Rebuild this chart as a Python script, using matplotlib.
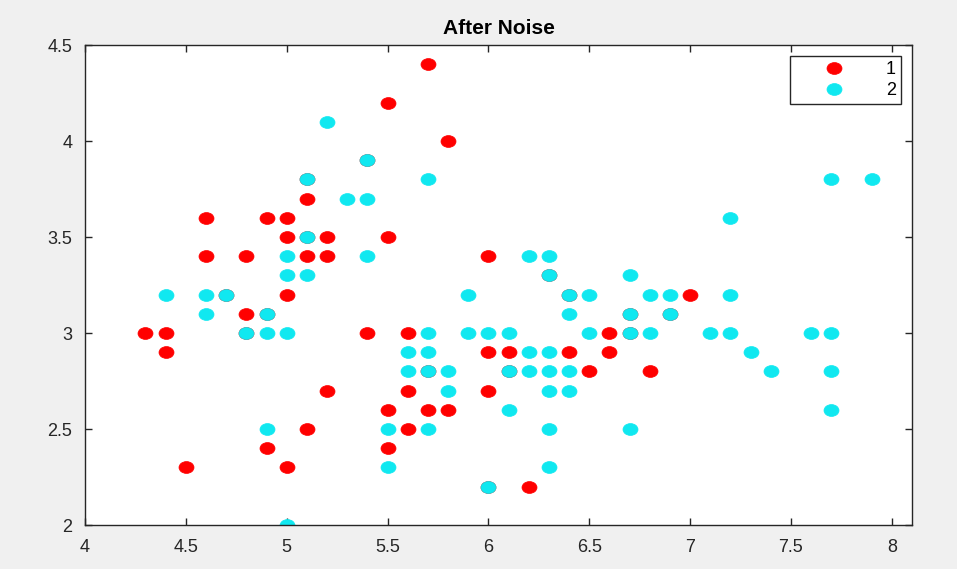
import matplotlib.pyplot as plt
from matplotlib.markers import MarkerStyle
from matplotlib.transforms import Affine2D

# clase 1 (rojo)
x1 = [5.7, 5.5, 5.8, 5.1, 4.6, 4.9, 5.0, 5.0, 5.2, 5.5, 4.6, 4.8, 5.1, 5.2, 6.0,
      5.0, 7.0, 4.8, 4.3, 4.4, 5.4, 5.6, 6.6, 4.4, 6.0, 6.1, 6.4, 6.6, 6.5, 6.8,
      5.2, 5.6, 6.0, 5.5, 5.7, 5.8, 5.1, 5.6, 4.9, 5.5, 4.5, 5.0, 6.2]
y1 = [4.4, 4.2, 4.0, 3.7, 3.6, 3.6, 3.6, 3.5, 3.5, 3.5, 3.4, 3.4, 3.4, 3.4, 3.4,
      3.2, 3.2, 3.1, 3.0, 3.0, 3.0, 3.0, 3.0, 2.9, 2.9, 2.9, 2.9, 2.9, 2.8, 2.8,
      2.7, 2.7, 2.7, 2.6, 2.6, 2.6, 2.5, 2.5, 2.4, 2.4, 2.3, 2.3, 2.2]

# puntos rojos tapados por cyan (se ven con borde oscuro)
x1b = [5.1, 5.4, 4.7, 4.9, 4.8, 5.1, 5.7, 6.0, 6.3, 6.4, 6.7, 6.9, 6.7, 6.1]
y1b = [3.8, 3.9, 3.2, 3.1, 3.0, 3.5, 2.8, 2.2, 3.3, 3.2, 3.1, 3.1, 3.0, 2.8]

# clase 2 (cyan)
x2 = [5.2, 5.4, 5.1, 5.7, 7.7, 7.9, 5.3, 5.4, 7.2, 5.1, 5.0, 5.4, 6.2, 6.3, 5.0,
      5.1, 6.3, 6.7, 4.4, 4.6, 4.7, 5.9, 6.4, 6.5, 6.8, 6.9, 7.2, 4.6, 4.9, 6.4,
      6.7, 6.9, 4.8, 4.9, 5.0, 5.7, 5.9, 6.0, 6.1, 6.5, 6.7, 6.8, 7.1, 7.2, 7.6,
      7.7, 5.6, 5.7, 6.2, 6.3, 7.3, 5.6, 5.7, 5.8, 6.1, 6.2, 6.3, 6.4, 7.4, 7.7,
      5.8, 6.3, 6.4, 6.1, 7.7, 4.9, 5.5, 5.7, 6.3, 6.7, 5.5, 6.3, 6.0, 5.0]
y2 = [4.1, 3.9, 3.8, 3.8, 3.8, 3.8, 3.7, 3.7, 3.6, 3.5, 3.4, 3.4, 3.4, 3.4, 3.3,
      3.3, 3.3, 3.3, 3.2, 3.2, 3.2, 3.2, 3.2, 3.2, 3.2, 3.2, 3.2, 3.1, 3.1, 3.1,
      3.1, 3.1, 3.0, 3.0, 3.0, 3.0, 3.0, 3.0, 3.0, 3.0, 3.0, 3.0, 3.0, 3.0, 3.0,
      3.0, 2.9, 2.9, 2.9, 2.9, 2.9, 2.8, 2.8, 2.8, 2.8, 2.8, 2.8, 2.8, 2.8, 2.8,
      2.7, 2.7, 2.7, 2.6, 2.6, 2.5, 2.5, 2.5, 2.5, 2.5, 2.3, 2.3, 2.2, 2.0]

rojo = '#ff0000'
cian = '#10e8f0'

plt.rcParams['font.family'] = ['Liberation Sans', 'DejaVu Sans']

# marcador algo achatado como en la imagen original
punto = MarkerStyle('o', transform=Affine2D().scale(1.2, 0.95))

fig = plt.figure(figsize=(9.57, 5.69), dpi=100, facecolor='#f0f0f0')
ax = fig.add_axes([0.0888, 0.0773, 0.8642, 0.8436])

ax.plot(x1, y1, ls='none', marker=punto, color=rojo, ms=9, mfc=rojo, mec=rojo, mew=0.5, label='1')
ax.plot(x1b, y1b, ls='none', marker=punto, color=rojo, ms=9, mfc=rojo, mec=rojo, mew=0.5)
ax.plot(x2, y2, ls='none', marker=punto, color=cian, ms=9, mfc=cian, mec=cian, mew=0.5, label='2')

ax.set_xlim(4, 8.1)
ax.set_ylim(2, 4.5)
ax.set_xticks([4, 4.5, 5, 5.5, 6, 6.5, 7, 7.5, 8])
ax.set_xticklabels(['4', '4.5', '5', '5.5', '6', '6.5', '7', '7.5', '8'])
ax.set_yticks([2, 2.5, 3, 3.5, 4, 4.5])
ax.set_yticklabels(['2', '2.5', '3', '3.5', '4', '4.5'])
ax.tick_params(direction='in', top=True, right=True, labelsize=13,
               length=5, width=1, colors='#262626')
ax.tick_params(axis='x', pad=10)
ax.tick_params(axis='y', pad=9)
for s in ax.spines.values():
    s.set_color('#262626')
    s.set_linewidth(1)

ax.set_title('After Noise', fontsize=15, fontweight='bold', pad=8)

leg = ax.legend(loc='upper right', fontsize=13, handlelength=4.3, handletextpad=0.7,
                borderaxespad=0.6, fancybox=False, framealpha=1, labelspacing=0.2,
                borderpad=0.3)
leg.get_frame().set_edgecolor('#262626')
leg.get_frame().set_linewidth(1)

fig.savefig('out.png', dpi=100, facecolor=fig.get_facecolor())
